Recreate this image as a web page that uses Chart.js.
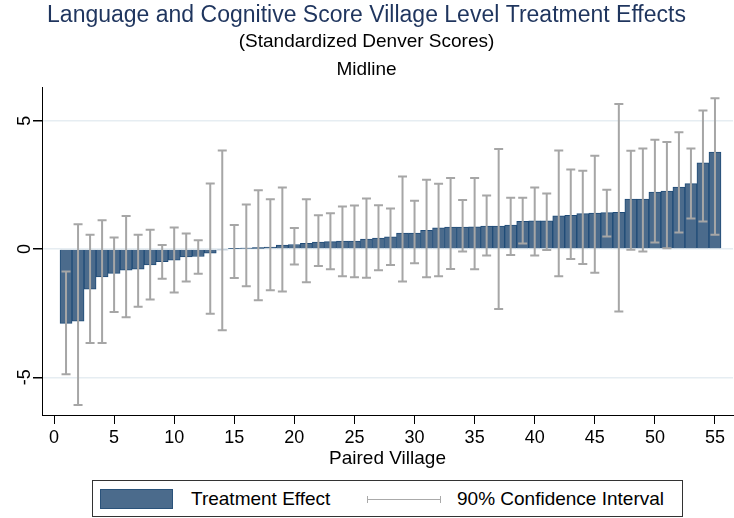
<!DOCTYPE html>
<html>
<head>
<meta charset="utf-8">
<script src="https://cdn.jsdelivr.net/npm/chart.js@4.4.0/dist/chart.umd.min.js"></script>
<style>
  body { margin: 0; background: #fff; font-family: "Liberation Sans", Arial, sans-serif; }
  #wrap { position: relative; width: 734px; height: 518px; }
  #legend {
    position: absolute; left: 92px; top: 480px; width: 589px; height: 35px;
    border: 1px solid #333; background: #fff; font-size: 19px; color: #000;
  }
  #legend .sw {
    position: absolute; left: 7px; top: 8px; width: 71px; height: 18px;
    background: #4b6b8c; border: 1px solid #2a527a;
  }
  #legend .t1 { position: absolute; left: 98px; top: 7px; }
  #legend .ci {
    position: absolute; left: 274px; top: 15px; width: 72px; height: 7px;
    border-left: 1px solid #aaa; border-right: 1px solid #aaa;
  }
  #legend .ci div { position: absolute; left: 0; right: 0; top: 3px; height: 1px; background: #aaa; }
  #legend .t2 { position: absolute; left: 364px; top: 7px; }
</style>
</head>
<body>
<div id="wrap">
  <canvas id="chart" width="734" height="518"></canvas>
  <div id="legend">
    <div class="sw"></div><span class="t1">Treatment Effect</span>
    <div class="ci"><div></div></div><span class="t2">90% Confidence Interval</span>
  </div>
</div>
<script>
// paired villages 1..55, sorted by treatment effect
var villages = [];
for (var n = 1; n <= 55; n++) villages.push(n);

var effect = [-2.90, -2.81, -1.56, -1.09, -0.95, -0.82, -0.78, -0.62, -0.49, -0.43, -0.31, -0.29, -0.16,
    -0.03, 0.02, 0.04, 0.06, 0.08, 0.16, 0.18, 0.22, 0.27, 0.29, 0.31, 0.31, 0.39, 0.43,
    0.48, 0.62, 0.62, 0.73, 0.83, 0.86, 0.86, 0.87, 0.90, 0.90, 0.94, 1.08, 1.10, 1.10,
    1.30, 1.32, 1.38, 1.40, 1.42, 1.43, 1.95, 1.95, 2.22, 2.26, 2.42, 2.55, 3.36, 3.78];

var ciLow = [-4.88, -6.08, -3.66, -3.66, -2.45, -2.66, -2.25, -1.97, -1.16, -1.69, -1.26, -0.96, -2.52,
    -3.17, -1.13, -1.45, -2.00, -1.61, -1.65, -0.60, -1.29, -0.66, -0.79, -1.06, -1.10, -1.12, -0.83,
    -0.62, -1.26, -0.55, -1.10, -1.06, -0.78, -0.09, -0.79, -0.25, -2.34, -0.23, 0.22, -0.25, -0.04,
    -1.06, -0.39, -0.58, -0.92, 0.49, -2.43, -0.03, -0.09, 0.26, 0.03, 0.65, 1.19, 1.08, 0.56];

var ciHigh = [-0.87, 0.97, 0.56, 1.12, 0.45, 1.29, 0.56, 0.75, 0.16, 0.84, 0.61, 0.34, 2.56,
    3.84, 0.94, 1.74, 2.29, 1.94, 2.40, 0.82, 1.94, 1.32, 1.40, 1.66, 1.70, 1.97, 1.71,
    1.58, 2.83, 1.88, 2.70, 2.55, 2.77, 1.91, 2.77, 2.09, 3.90, 2.00, 2.00, 2.40, 2.17,
    3.84, 3.10, 3.05, 3.64, 2.31, 5.66, 3.83, 3.92, 4.26, 4.18, 4.56, 3.92, 5.40, 5.88];

var xTicks = [0, 5, 10, 15, 20, 25, 30, 35, 40, 45, 50, 55];
var yTicks = [-5, 0, 5];

var barData = villages.map(function(v, i) { return { x: v, y: effect[i] }; });

// draws the 90% CI whiskers on top of the bars
var errorBars = {
    id: 'errorBars',
    afterDatasetsDraw: function(chart) {
        var ctx = chart.ctx;
        var xs = chart.scales.x;
        var ys = chart.scales.y;
        ctx.save();
        ctx.strokeStyle = '#a6a6a6';
        ctx.lineWidth = 2;
        for (var i = 0; i < villages.length; i++) {
            var px = xs.getPixelForValue(villages[i]);
            var lo = ys.getPixelForValue(ciLow[i]);
            var hi = ys.getPixelForValue(ciHigh[i]);
            ctx.beginPath();
            ctx.moveTo(px, lo); ctx.lineTo(px, hi);
            ctx.moveTo(px - 4.5, lo); ctx.lineTo(px + 4.5, lo);
            ctx.moveTo(px - 4.5, hi); ctx.lineTo(px + 4.5, hi);
            ctx.stroke();
        }
        ctx.restore();
    }
};

var font = "'Liberation Sans', Arial, sans-serif";

var ctx = document.getElementById('chart').getContext('2d');
var myChart = new Chart(ctx, {
    type: 'bar',
    data: {
        datasets: [{
            label: 'Treatment Effect',
            data: barData,
            backgroundColor: '#4b6b8c',
            borderColor: '#1f4b77',
            borderWidth: 1,
            barPercentage: 1,
            categoryPercentage: 1
        }]
    },
    plugins: [errorBars],
    options: {
        responsive: false,
        animation: false,
        layout: { padding: { left: 0, right: 1, top: 0, bottom: 48 } },
        plugins: {
            legend: { display: false },
            tooltip: { enabled: false },
            title: {
                display: true,
                text: 'Language and Cognitive Score Village Level Treatment Effects',
                color: '#1f355e',
                font: { family: font, size: 23, weight: 'normal', lineHeight: 1.1 },
                padding: { top: 3, bottom: 0 }
            },
            subtitle: {
                display: true,
                text: ['(Standardized Denver Scores)', 'Midline'],
                color: '#000',
                font: { family: font, size: 19, weight: 'normal', lineHeight: 1.45 },
                padding: { top: 0, bottom: 3.6 }
            }
        },
        scales: {
            x: {
                type: 'linear',
                min: -1,
                max: 56.5,
                offset: false,
                afterBuildTicks: function(axis) {
                    axis.ticks = xTicks.map(function(v) { return { value: v }; });
                },
                afterFit: function(axis) { axis.height = 55; },
                grid: { offset: false, drawOnChartArea: false, tickLength: 9, tickColor: '#000' },
                border: { color: '#000', width: 1 },
                ticks: { color: '#000', font: { family: font, size: 18 }, padding: 3, maxRotation: 0 },
                title: {
                    display: true,
                    text: 'Paired Village',
                    color: '#000',
                    font: { family: font, size: 19 },
                    padding: { top: 0, bottom: 0 }
                }
            },
            y: {
                min: -6.47,
                max: 6.32,
                afterBuildTicks: function(axis) {
                    axis.ticks = yTicks.map(function(v) { return { value: v }; });
                },
                afterFit: function(axis) { axis.width = 42; },
                grid: { color: '#e6edf2', lineWidth: 1.5, tickLength: 9, tickColor: '#000' },
                border: { color: '#000', width: 1 },
                ticks: {
                    color: '#000',
                    font: { family: font, size: 18 },
                    minRotation: 90,
                    maxRotation: 90,
                    crossAlign: 'center',
                    padding: 0
                }
            }
        }
    }
});
</script>
</body>
</html>
